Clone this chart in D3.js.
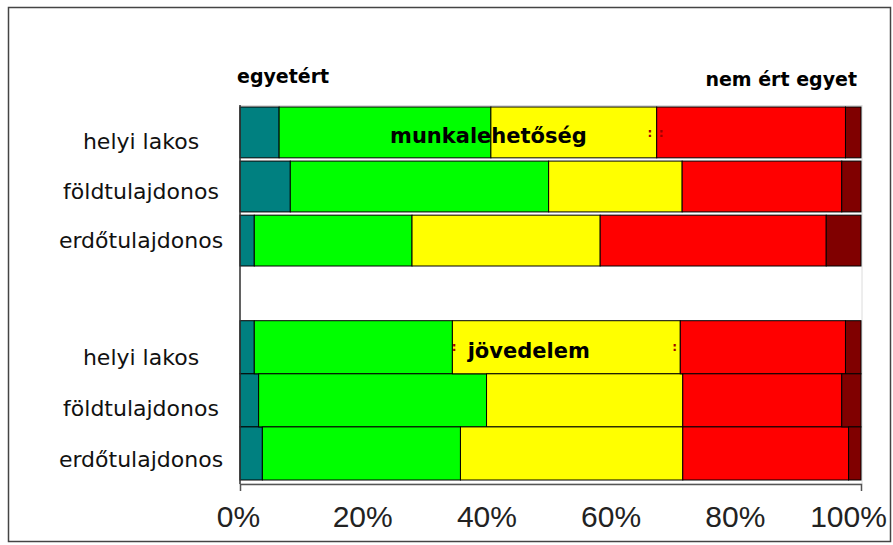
<!DOCTYPE html>
<html lang="hu">
<head>
  <meta charset="UTF-8">
  <title>munkalehetőség / jövedelem</title>
  <style type="text/css">
    body{
      margin: 0;
      background: #fff;
    }
    .cat{
      font-family: "DejaVu Sans", sans-serif;
      font-size: 22px;
      fill: #111;
    }
    .head{
      font-family: "DejaVu Sans", sans-serif;
      font-weight: bold;
      font-size: 19px;
      fill: #000;
    }
    .inbar{
      font-family: "DejaVu Sans", sans-serif;
      font-weight: bold;
      font-size: 21px;
      fill: #000;
    }
    .dots{
      font-family: "DejaVu Sans", sans-serif;
      font-weight: bold;
      font-size: 12px;
      fill: #a00000;
    }
    .x.axis text{
      font-family: "Liberation Sans", Arial, sans-serif;
      font-size: 30px;
      fill: #222;
    }
    .x.axis path{
      stroke: #555;
      stroke-width: 1.5px;
    }
    .bar rect{
      stroke: #000;
      stroke-width: 1px;
    }
  </style>
  <script src="https://cdnjs.cloudflare.com/ajax/libs/d3/7.8.5/d3.min.js"></script>
</head>
<body>
<script type="text/javascript">
  // values (percent of answers)
  var categories = ['helyi lakos', 'földtulajdonos', 'erdőtulajdonos'];
  var answers = ['egyetért', 'inkább egyetért', 'semleges', 'inkább nem ért egyet', 'nem ért egyet'];
  var colors = ['#008080', '#00ff00', '#ffff00', '#ff0000', '#800000'];
  var munkaValues = [
    [6.3, 34.1, 26.7, 30.4, 2.5],
    [8.1, 41.6, 21.5, 25.7, 3.1],
    [2.3, 25.4, 30.3, 36.4, 5.6]
  ];
  var jovedelemValues = [
    [2.3, 31.9, 36.7, 26.6, 2.5],
    [3.0, 36.7, 31.6, 25.6, 3.1],
    [3.6, 31.9, 35.8, 26.7, 2.0]
  ];
  var ticks = [0, 20, 40, 60, 80, 100];
  // leftover label-frame marks seen in the picture
  var munkaDots = [66.0, 67.8];
  var jovedelemDots = [34.5, 70.0];

  var width = 893, height = 545;

  var svg = d3.select('body')
    .append('svg')
    .attr('width', width)
    .attr('height', height);

  // outer frame
  svg.append('rect')
    .attr('x', 8.5).attr('y', 7.5)
    .attr('width', 882).attr('height', 534)
    .attr('fill', 'none')
    .attr('stroke', '#444')
    .attr('stroke-width', 1.5);

  var xScale = d3.scaleLinear().domain([0, 100]).range([240, 861]);

  var color = d3.scaleOrdinal().domain(answers).range(colors);

  var groups = [
    {name: 'munkalehetőség', values: munkaValues, dots: munkaDots, band: [107, 266], pad: 0.06, labels: [149, 248], at: 40},
    {name: 'jövedelem', values: jovedelemValues, dots: jovedelemDots, band: [320.7, 480], pad: 0, labels: [365, 467], at: 46.5}
  ];

  // plot area border (light)
  svg.append('rect')
    .attr('x', xScale(0)).attr('y', 105.5)
    .attr('width', xScale(100) - xScale(0) + 1).attr('height', 484 - 105.5)
    .attr('fill', 'none')
    .attr('stroke', '#dcdcdc');

  var stack = d3.stack().keys(answers);

  groups.forEach(function(g){
    var rows = g.values.map(function(v, i){
      var o = {cat: categories[i]};
      answers.forEach(function(a, j){ o[a] = v[j]; });
      return o;
    });

    var yScale = d3.scaleBand()
      .domain(categories)
      .range(g.band)
      .paddingInner(g.pad);

    var labelScale = d3.scalePoint()
      .domain(categories)
      .range(g.labels);

    var series = svg.append('g').selectAll(null)
      .data(stack(rows))
      .enter().append('g')
      .attr('class', 'bar')
      .style('fill', function(d){ return color(d.key); });

    series.selectAll('rect')
      .data(function(d){ return d; })
      .enter().append('rect')
      .attr('x', function(d){ return xScale(d[0]); })
      .attr('width', function(d){ return xScale(d[1]) - xScale(d[0]); })
      .attr('y', function(d){ return yScale(d.data.cat); })
      .attr('height', yScale.bandwidth());

    svg.append('g').selectAll(null)
      .data(categories)
      .enter().append('text')
      .attr('class', 'cat')
      .attr('x', 141)
      .attr('y', function(d){ return labelScale(d); })
      .attr('text-anchor', 'middle')
      .text(function(d){ return d; });

    var midY = yScale(categories[0]) + yScale.bandwidth() / 2;

    svg.append('text')
      .attr('class', 'inbar')
      .attr('x', xScale(g.at))
      .attr('y', midY)
      .attr('dy', '0.5em')
      .attr('text-anchor', 'middle')
      .text(g.name);

    svg.append('g').selectAll(null)
      .data(g.dots)
      .enter().append('text')
      .attr('class', 'dots')
      .attr('x', function(d){ return xScale(d); })
      .attr('y', midY)
      .attr('dy', '0.35em')
      .attr('text-anchor', 'middle')
      .text(':');
  });

  // left axis line
  svg.append('line')
    .attr('x1', xScale(0)).attr('x2', xScale(0))
    .attr('y1', 105).attr('y2', 484)
    .attr('stroke', '#333')
    .attr('stroke-width', 1.5);

  var xAxis = d3.axisBottom(xScale)
    .tickValues(ticks)
    .tickSizeInner(0)
    .tickSizeOuter(7)
    .tickPadding(22)
    .tickFormat(function(d){ return d + '%'; });

  var ax = svg.append('g')
    .attr('class', 'x axis')
    .attr('transform', 'translate(0,484)')
    .call(xAxis);

  ax.selectAll('text').attr('dx', -2);
  ax.selectAll('text').filter(function(d){ return d === 100; }).attr('dx', -13);

  svg.append('text')
    .attr('class', 'head')
    .attr('x', 237)
    .attr('y', 83)
    .text('egyetért');

  svg.append('text')
    .attr('class', 'head')
    .attr('x', 857)
    .attr('y', 86)
    .attr('text-anchor', 'end')
    .text('nem ért egyet');
</script>
</body>
</html>
